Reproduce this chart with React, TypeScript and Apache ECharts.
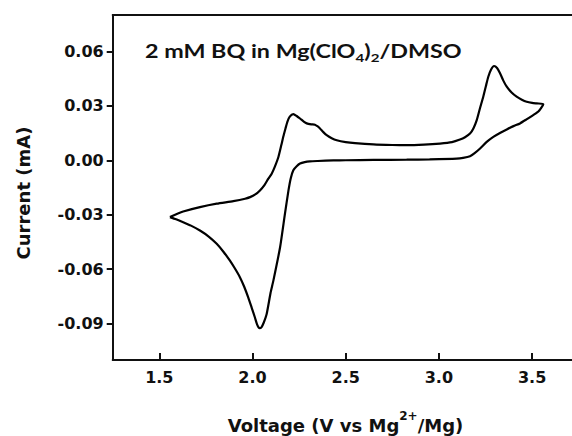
import React, { useEffect, useRef } from "react";
import * as echarts from "echarts";

// Cyclic voltammogram: upper branch (increasing voltage), then lower branch back
const upperVoltage = [1.557, 1.6, 1.628, 1.718, 1.808, 1.897, 1.96, 1.987, 2.015, 2.04, 2.065, 2.085, 2.103, 2.12, 2.139, 2.155, 2.165, 2.177, 2.187, 2.2, 2.219, 2.237, 2.255, 2.275, 2.291, 2.315, 2.335, 2.35, 2.362, 2.38, 2.398, 2.425, 2.452, 2.5, 2.55, 2.649, 2.75, 2.827, 2.92, 3.006, 3.07, 3.113, 3.14, 3.167, 3.185, 3.203, 3.22, 3.238, 3.252, 3.265, 3.28, 3.296, 3.312, 3.328, 3.345, 3.364, 3.39, 3.417, 3.445, 3.471, 3.5, 3.525, 3.56];
const upperCurrent = [-0.0313, -0.0293, -0.0282, -0.0258, -0.0239, -0.0225, -0.0212, -0.0203, -0.0188, -0.0166, -0.0135, -0.0101, -0.0074, -0.0035, 0.0018, 0.0085, 0.0129, 0.0175, 0.0212, 0.024, 0.0254, 0.0244, 0.023, 0.0213, 0.0203, 0.0198, 0.0196, 0.0186, 0.0175, 0.0155, 0.0138, 0.0121, 0.011, 0.01, 0.0094, 0.0087, 0.0084, 0.0083, 0.0086, 0.0092, 0.01, 0.0114, 0.0127, 0.0147, 0.0175, 0.0221, 0.0285, 0.035, 0.0408, 0.046, 0.05, 0.0519, 0.0508, 0.0479, 0.044, 0.0405, 0.0373, 0.035, 0.0333, 0.0322, 0.0316, 0.0313, 0.0309];
const lowerVoltage = [3.535, 3.506, 3.47, 3.435, 3.4, 3.364, 3.33, 3.292, 3.255, 3.221, 3.19, 3.167, 3.13, 3.095, 2.95, 2.827, 2.65, 2.5, 2.434, 2.35, 2.308, 2.28, 2.255, 2.237, 2.219, 2.205, 2.193, 2.174, 2.148, 2.112, 2.097, 2.076, 2.06, 2.048, 2.037, 2.025, 2.013, 1.995, 1.977, 1.955, 1.933, 1.905, 1.879, 1.845, 1.808, 1.765, 1.718, 1.67, 1.628, 1.59, 1.557];
const lowerCurrent = [0.027, 0.0249, 0.0225, 0.0203, 0.0188, 0.017, 0.0152, 0.0129, 0.01, 0.0065, 0.0038, 0.0022, 0.0013, 0.0009, 0.0005, 0.0003, 0.0002, 0.0, -0.0001, -0.0004, -0.0006, -0.001, -0.0018, -0.0033, -0.0055, -0.01, -0.0166, -0.0295, -0.0479, -0.0663, -0.073, -0.0847, -0.0895, -0.092, -0.0925, -0.0905, -0.0866, -0.081, -0.0755, -0.0695, -0.0645, -0.0595, -0.0553, -0.0505, -0.046, -0.042, -0.0387, -0.036, -0.0341, -0.0325, -0.0313];

const xTicks = [1.5, 2.0, 2.5, 3.0, 3.5];
const yTicks = [-0.09, -0.06, -0.03, 0.0, 0.03, 0.06];

const titleText = "{m|2 mM BQ in Mg(ClO}{s|4}{m|)}{s|2}{m|/DMSO}";
const xName = "{m|Voltage (V vs Mg}{p|2+}{m|/Mg)}";
const yName = "Current (mA)";

export default function App() {
  const ref = useRef<HTMLDivElement>(null);
  useEffect(() => {
    if (!ref.current) return;
    const chart = echarts.init(ref.current, null, { renderer: "svg" });
    const data: number[][] = [];
    upperVoltage.forEach((v, i) => data.push([v, upperCurrent[i]]));
    lowerVoltage.forEach((v, i) => data.push([v, lowerCurrent[i]]));
    const labelFont = {
      fontFamily: "DejaVu Sans",
      fontWeight: "bold" as const,
      fontSize: 16,
      color: "#111",
    };
    const gridLeft = 112.7;
    const gridWidth = 572 - gridLeft;
    const xMin = 1.25;
    const xMax = xMin + gridWidth / 186.4;
    chart.setOption({
      animation: false,
      backgroundColor: "#fff",
      grid: {
        left: gridLeft,
        top: 15,
        width: gridWidth,
        height: 345,
        show: false,
        containLabel: false,
      },
      xAxis: [
        {
          type: "value",
          min: xMin,
          max: xMax,
          splitLine: { show: false },
          axisLine: { show: true, onZero: false, lineStyle: { color: "#111", width: 2 } },
          axisTick: {
            show: true,
            inside: true,
            length: 7,
            lineStyle: { color: "#111", width: 2 },
            customValues: xTicks,
          },
          axisLabel: {
            ...labelFont,
            margin: 9,
            customValues: xTicks,
            formatter: (v: number) => v.toFixed(1),
          },
        },
        {
          type: "value",
          position: "top",
          min: xMin,
          max: xMax,
          splitLine: { show: false },
          axisLine: { show: true, onZero: false, lineStyle: { color: "#111", width: 2 } },
          axisTick: { show: false },
          axisLabel: { show: false },
        },
      ],
      yAxis: {
        type: "value",
        min: -0.11,
        max: 0.08,
        splitLine: { show: false },
        axisLine: { show: true, onZero: false, lineStyle: { color: "#111", width: 2 } },
        axisTick: {
          show: true,
          inside: false,
          length: 6,
          lineStyle: { color: "#111", width: 2 },
          customValues: yTicks,
        },
        axisLabel: {
          ...labelFont,
          margin: 9,
          customValues: yTicks,
          formatter: (v: number) => v.toFixed(2),
        },
      },
      graphic: [
        {
          type: "text",
          x: 145,
          y: 51,
          scaleX: 1.26,
          style: {
            text: titleText,
            verticalAlign: "middle",
            align: "left",
            rich: {
              m: {
                fontFamily: "Lato",
                fontWeight: "bold",
                fontSize: 18.5,
                lineHeight: 26,
                verticalAlign: "middle",
                fill: "#111",
              },
              s: {
                fontFamily: "Lato",
                fontWeight: "bold",
                fontSize: 12,
                verticalAlign: "bottom",
                fill: "#111",
              },
            },
          },
        },
        {
          type: "text",
          x: 345.5,
          y: 422,
          style: {
            text: xName,
            align: "center",
            verticalAlign: "middle",
            rich: {
              m: {
                fontFamily: "DejaVu Sans",
                fontWeight: "bold",
                fontSize: 18,
                lineHeight: 24,
                verticalAlign: "bottom",
                fill: "#111",
              },
              p: {
                fontFamily: "DejaVu Sans",
                fontWeight: "bold",
                fontSize: 12,
                verticalAlign: "top",
                fill: "#111",
              },
            },
          },
        },
        {
          type: "text",
          x: 23,
          y: 193,
          rotation: Math.PI / 2,
          style: {
            text: yName,
            align: "center",
            verticalAlign: "middle",
            fontFamily: "DejaVu Sans",
            fontWeight: "bold",
            fontSize: 18,
            fill: "#111",
          },
        },
      ],
      series: [
        {
          type: "line",
          xAxisIndex: 0,
          data,
          showSymbol: false,
          smooth: 0.2,
          lineStyle: { color: "#000", width: 2.2 },
          clip: false,
        },
      ],
    });
    return () => chart.dispose();
  }, []);
  return (
    <div
      ref={ref}
      style={{ position: "fixed", left: 0, top: 0, width: 572, height: 436 }}
    />
  );
}
